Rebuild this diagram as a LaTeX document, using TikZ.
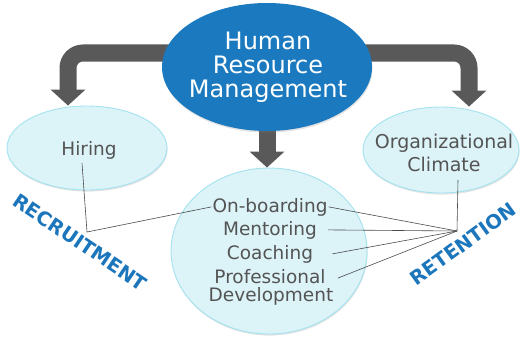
\documentclass[tikz,border=0pt]{standalone}
\usepackage{fontspec}
\setmainfont{DejaVu Sans}
\usetikzlibrary{shapes.geometric,shadows,arrows.meta,backgrounds}
\definecolor{hrblue}{HTML}{1B7ABF}
\definecolor{paleblue}{HTML}{DCF3F8}
\definecolor{paleedge}{HTML}{A3E3EF}
\definecolor{bandgrey}{HTML}{595959}
\definecolor{inkgrey}{HTML}{545454}
\definecolor{wiregrey}{HTML}{4A4A4A}
\definecolor{tagblue}{HTML}{1C76BC}
\tikzset{
  softshadow/.style={drop shadow={opacity=0.22,shadow xshift=0.6pt,shadow yshift=-1.6pt}},
  bubble/.style={ellipse,inner sep=0pt,fill=paleblue,draw=paleedge,line width=0.9pt,softshadow},
  hub/.style={ellipse,inner sep=0pt,fill=hrblue,draw=none,softshadow},
  hubtext/.style={text=white,align=center,inner sep=0pt,font=\fontsize{24}{24}\selectfont},
  itemtext/.style={text=inkgrey,inner sep=1pt,font=\fontsize{18.5}{19}\selectfont},
  band/.style={draw=bandgrey,line width=17pt,rounded corners=15pt,-{Triangle[width=34pt,length=16pt]}},
  wire/.style={draw=wiregrey,line width=0.6pt},
  tag/.style={text=tagblue,font=\bfseries\fontsize{19.5}{19.5}\selectfont,inner sep=0pt},
}
\begin{document}
\begin{tikzpicture}[x=1pt,y=-1pt]
\useasboundingbox (0,0) rectangle (521,337);

% ellipses
\node[hub,minimum width=210pt,minimum height=128pt] (hrm) at (267,67) {};
\node[hubtext] (hrmtxt) at (268,67.5) {Human\\Resource\\Management};

\node[bubble,minimum width=160pt,minimum height=84pt] (hiring) at (87,148) {};
\node[itemtext,anchor=base] (hirtxt) at (89,155) {Hiring};

\node[bubble,minimum width=156pt,minimum height=86pt] (climate) at (441,150) {};
\node[itemtext,align=center,font=\fontsize{19}{22.5}\selectfont] (climtxt) at (444,153) {Organizational\\Climate};

\node[bubble,minimum width=196pt,minimum height=166pt] (core) at (269,251) {};
\node[itemtext,anchor=base] (onb) at (270,212) {On-boarding};
\node[itemtext,anchor=base] (ment) at (270,235) {Mentoring};
\node[itemtext,anchor=base] (coach) at (270,259) {Coaching};
\node[itemtext,anchor=base] (prof) at (270,283) {Professional};
\node[itemtext,anchor=base] (dev) at (271,301) {Development};

% thick bent arrows behind the ellipses
\begin{scope}[on background layer]
  \draw[band] ([yshift=14pt]hrm.center) -| ([xshift=-19pt]hiring.north);
  \draw[band] ([yshift=14pt]hrm.center) -| ([xshift=28pt]climate.north);
  \draw[band] (hrm.center) -- (hrm.center |- core.north);
\end{scope}

% thin connectors
\coordinate (recjoin) at (87,232);
\coordinate (retjoin) at (457,231);
\draw[wire] ([xshift=-7pt,yshift=-3pt]hirtxt.south) -- (recjoin) -- (onb.west);
\draw[wire] ([xshift=14pt,yshift=-7pt]climtxt.south) -- (retjoin);
\draw[wire] (retjoin) -- (onb.east);
\draw[wire] (retjoin) -- ([xshift=10pt]ment.east);
\draw[wire] (retjoin) -- ([xshift=18pt]coach.east);
\draw[wire] (retjoin) -- ([xshift=11pt,yshift=-2pt]prof.east);

% side labels
\node[tag,rotate=-34] (recruit) at (80,242) {RECRUITMENT};
\node[tag,rotate=36] (retain) at (463,244) {RETENTION};
\end{tikzpicture}
\end{document}
